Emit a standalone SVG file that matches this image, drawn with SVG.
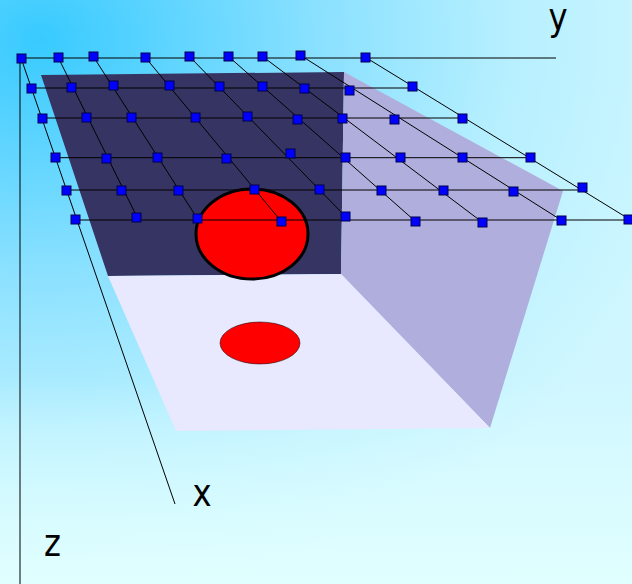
<svg xmlns="http://www.w3.org/2000/svg" width="632" height="584" viewBox="0 0 632 584">
<defs>
<radialGradient id="bg" gradientUnits="userSpaceOnUse" cx="0" cy="0" r="1" gradientTransform="translate(40 40) scale(680 560)">
<stop offset="0" stop-color="#38caff"/>
<stop offset="0.4" stop-color="#88e0ff"/>
<stop offset="0.7" stop-color="#b8f0ff"/>
<stop offset="1" stop-color="#d0f7ff"/>
</radialGradient>
<linearGradient id="fade" gradientUnits="userSpaceOnUse" x1="0" y1="380" x2="0" y2="584">
<stop offset="0" stop-color="#e0ffff" stop-opacity="0"/>
<stop offset="1" stop-color="#e0ffff"/>
</linearGradient>
<style>
.l{stroke:#000;stroke-width:1;fill:none}
.n rect{fill:#00f;stroke:#000050;stroke-width:1;width:9px;height:9px}
text{font-family:"DejaVu Sans",sans-serif;font-size:38px;fill:#000}
</style>
</defs>
<rect width="632" height="584" fill="url(#bg)"/>
<rect width="632" height="584" fill="url(#fade)"/>
<g id="scene">
<polygon points="41,75 344,72 341,274 108,276" fill="#363463"/>
<polygon points="344,72 563,191 490,428 341,274" fill="#b0aedd"/>
<polygon points="108,276 341,274 490,428 176,431" fill="#e8e8ff"/>
<ellipse id="ball" cx="252" cy="234" rx="56" ry="45" fill="#f00" stroke="#000" stroke-width="3"/>
<ellipse id="shadow" cx="260" cy="343" rx="40" ry="21" fill="#f00" stroke="#000" stroke-width="0.5"/>
</g>
<g id="connectors" class="l">
<path d="M20 58V584"/>
<path d="M21 58H556M31 88H412M42 118H462M55 157.7H530M66 190H582M75 220H629"/>
<path d="M21 58L175 504M58 57L137 217M93 56L197 218M145 57L281 221M189 56L345 216M228 56L415 221M262 56L482 222M300 55L561 220M365 57L629 219"/>
</g>
<g id="nodes" class="n">
<rect x="17" y="54" width="9" height="9"/>
<rect x="54" y="53" width="9" height="9"/>
<rect x="89" y="52" width="9" height="9"/>
<rect x="141" y="53" width="9" height="9"/>
<rect x="185" y="52" width="9" height="9"/>
<rect x="224" y="52" width="9" height="9"/>
<rect x="258" y="52" width="9" height="9"/>
<rect x="296" y="51" width="9" height="9"/>
<rect x="361" y="53" width="9" height="9"/>
<rect x="27" y="84" width="9" height="9"/>
<rect x="67" y="83" width="9" height="9"/>
<rect x="109" y="81" width="9" height="9"/>
<rect x="165" y="81" width="9" height="9"/>
<rect x="215" y="82" width="9" height="9"/>
<rect x="258" y="82" width="9" height="9"/>
<rect x="300" y="84" width="9" height="9"/>
<rect x="345" y="86" width="9" height="9"/>
<rect x="408" y="82" width="9" height="9"/>
<rect x="38" y="114" width="9" height="9"/>
<rect x="82" y="113" width="9" height="9"/>
<rect x="127" y="113" width="9" height="9"/>
<rect x="191" y="113" width="9" height="9"/>
<rect x="243" y="112" width="9" height="9"/>
<rect x="293" y="115" width="9" height="9"/>
<rect x="338" y="114" width="9" height="9"/>
<rect x="390" y="115" width="9" height="9"/>
<rect x="458" y="114" width="9" height="9"/>
<rect x="51" y="153" width="9" height="9"/>
<rect x="102" y="154" width="9" height="9"/>
<rect x="153" y="153" width="9" height="9"/>
<rect x="222" y="154" width="9" height="9"/>
<rect x="286" y="149" width="9" height="9"/>
<rect x="341" y="153" width="9" height="9"/>
<rect x="396" y="153" width="9" height="9"/>
<rect x="458" y="153" width="9" height="9"/>
<rect x="526" y="153" width="9" height="9"/>
<rect x="62" y="186" width="9" height="9"/>
<rect x="117" y="186" width="9" height="9"/>
<rect x="174" y="186" width="9" height="9"/>
<rect x="250" y="185" width="9" height="9"/>
<rect x="315" y="185" width="9" height="9"/>
<rect x="377" y="186" width="9" height="9"/>
<rect x="439" y="186" width="9" height="9"/>
<rect x="509" y="187" width="9" height="9"/>
<rect x="578" y="183" width="9" height="9"/>
<rect x="71" y="215" width="9" height="9"/>
<rect x="132" y="213" width="9" height="9"/>
<rect x="193" y="214" width="9" height="9"/>
<rect x="277" y="217" width="9" height="9"/>
<rect x="341" y="212" width="9" height="9"/>
<rect x="411" y="217" width="9" height="9"/>
<rect x="478" y="218" width="9" height="9"/>
<rect x="557" y="216" width="9" height="9"/>
<rect x="624" y="215" width="9" height="9"/>
</g>
<text transform="translate(548.5 30) scale(.85 1)">y</text>
<text transform="translate(192.5 505.500) scale(.85 1)">x</text>
<text transform="translate(44 556) scale(.85 1)">z</text>
</svg>
